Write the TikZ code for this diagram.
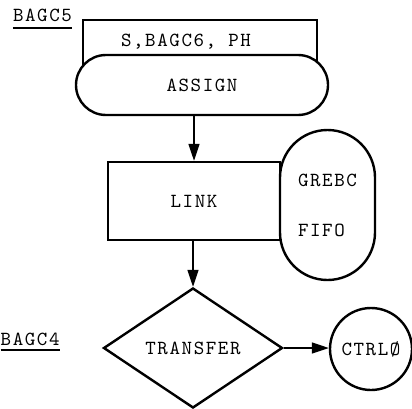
\documentclass[tikz,border=0pt]{standalone}
\usepackage{fontspec}
\setmonofont{lmmono10-regular.otf}[LetterSpace=8]
\usetikzlibrary{shapes.geometric,arrows.meta}

\begin{document}
\begin{tikzpicture}[x=1pt, y=1pt, font=\ttfamily\fontsize{20}{24}\selectfont, box/.style={draw, line width=2.4pt, inner sep=0pt}, tag/.style={inner sep=0pt}, uline/.style={line width=1.8pt}, arrow/.style={-{Triangle[length=17pt,width=11pt]}, line width=1.3pt}]
        \useasboundingbox (0,0) rectangle (412,408);
        \node[box, minimum width=234pt, minimum height=53pt] (hdr) at (200,361.5) {};
        \node[tag] (hdrtext) at (186,366) {S,BAGC6, PH};
        \node[box, fill=white, rounded corners=30pt, minimum width=252pt, minimum height=60pt] (assign) at (202,323) {ASSIGN};
        \node[box, minimum width=172pt, minimum height=78pt] (link) at (194,207) {LINK};
        \node[box, rounded corners=47.5pt, minimum width=95pt, minimum height=150pt, align=left] (queue) at (327.5,203) {GREBC\\[26pt]FIFO};
        \node[box, diamond, minimum width=179pt, minimum height=120pt] (xfer) at (193,60) {TRANSFER};
        \node[box, circle, minimum size=82pt] (ctrl) at (371,59) {CTRLØ};
        \node[tag, anchor=base] (bagcfive) at (42.5,386) {BAGC5};
        \node[tag, anchor=base west] (bagcfour) at (0.5,63) {BAGC4};
        \draw[uline] ([yshift=-6pt]bagcfive.base west) -- ([yshift=-6pt]bagcfive.base east);
        \draw[uline] ([yshift=-5pt]bagcfour.base west) -- ([yshift=-5pt]bagcfour.base east);
        \draw[arrow] (link.north |- assign.south) -- (link.north);
        \draw[arrow] (link.south -| xfer.north) -- (xfer.north);
        \draw[arrow] (xfer.east) -- (xfer.east -| ctrl.west);
    \end{tikzpicture}
\end{document}
